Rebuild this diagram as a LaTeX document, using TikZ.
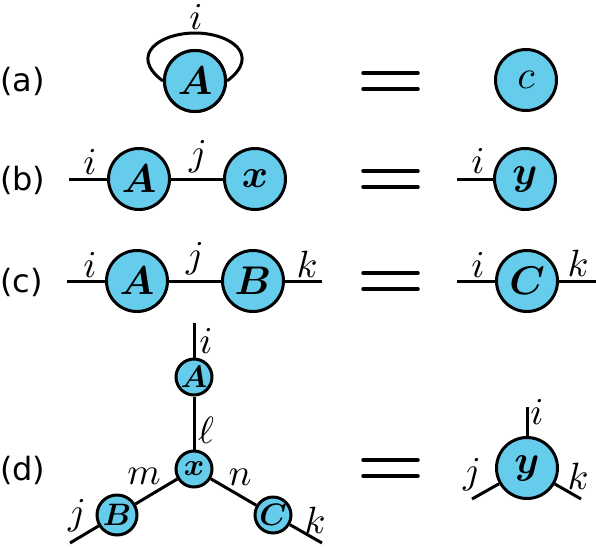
\documentclass[tikz,border=0pt]{standalone}
\usepackage{amsmath}
\usepackage{bm}
\usepackage{fontspec}
\newfontfamily\labfont{DejaVu Sans}
\definecolor{tfill}{RGB}{102,204,236}
\newcommand{\BigT}[1]{\scalebox{4.0}{$#1$}}
\newcommand{\SmallT}[1]{\scalebox{3.1}{$#1$}}
\begin{document}
\begin{tikzpicture}[x=1pt,y=-1pt,
  tn/.style={circle,draw=black,line width=3pt,fill=tfill,inner sep=0pt,minimum size=61pt},
  tns/.style={circle,draw=black,line width=3pt,fill=tfill,inner sep=0pt,minimum size=36pt},
  idx/.style={inner sep=0pt,scale=3.8},
  rowlab/.style={inner sep=0pt,anchor=west,font=\labfont\fontsize{32}{38}\selectfont},
  edge/.style={line width=3pt},
  eqsign/.style={line width=3.5pt,line cap=round}]
\useasboundingbox (0,0) rectangle (596,546);

% row labels
\node[rowlab] (la) at (0,81) {(a)};
\node[rowlab] (lb) at (0,180) {(b)};
\node[rowlab] (lc) at (0,282) {(c)};
\node[rowlab] (ld) at (0,470) {(d)};

% equals signs
\foreach \yc in {81,179,281,468}{
  \draw[eqsign] (363,\yc-8) -- (418,\yc-8);
  \draw[eqsign] (363,\yc+8) -- (418,\yc+8);
}

% (a)
\coordinate (aTop) at (195,33);
\node[tn] (aA) at (195,81) {};
\draw[edge] (aA.west) .. controls (128,55) and (160,33) .. (aTop)
            .. controls (230,33) and (262,55) .. (aA.east);
\node[tn] (aA2) at (aA) {\BigT{\bm{A}}};
\node[idx] (ai) at (196,17) {$i$};
\node[tn] (ac) at (526,80) {\BigT{c}};

% (b)
\coordinate (bL) at (69,179);
\node[tn] (bA) at (139,179) {\BigT{\bm{A}}};
\node[tn] (bx) at (255,179) {\BigT{\bm{x}}};
\draw[edge] (bL) -- (bA);
\draw[edge] (bA) -- (bx);
\node[idx] (bi) at (90,162) {$i$};
\node[idx] (bj) at (198,157) {$j$};
\coordinate (bL2) at (457,179);
\node[tn] (by) at (525,179) {\BigT{\bm{y}}};
\draw[edge] (bL2) -- (by);
\node[idx] (bi2) at (478,161) {$i$};

% (c)
\coordinate (cL) at (67,281);
\coordinate (cR) at (322,281);
\node[tn] (cA) at (137,281) {\BigT{\bm{A}}};
\node[tn] (cB) at (253,281) {\BigT{\bm{B}}};
\draw[edge] (cL) -- (cA);
\draw[edge] (cA) -- (cB);
\draw[edge] (cB) -- (cR);
\node[idx] (ci) at (90,265) {$i$};
\node[idx] (cj) at (195,259) {$j$};
\node[idx] (ck) at (307,264) {$k$};
\coordinate (cL2) at (457,281);
\coordinate (cR2) at (596,281);
\node[tn] (cC) at (527,281) {\BigT{\bm{C}}};
\draw[edge] (cL2) -- (cC);
\draw[edge] (cC) -- (cR2);
\node[idx] (ci2) at (478,265) {$i$};
\node[idx] (ck2) at (578,263) {$k$};

% (d) left
\node[tns] (dx) at (194,469) {\SmallT{\bm{x}}};
\node[tns] (dA) at (194,377) {\SmallT{\bm{A}}};
\node[tns,minimum size=40pt] (dB) at (117,515) {\SmallT{\bm{B}}};
\node[tns] (dC) at (273,515) {\SmallT{\bm{C}}};
\coordinate (dTop) at (194,323);
\coordinate (dBL) at (70,543);
\coordinate (dBR) at (322,543);
\draw[edge] (dTop) -- (dA);
\draw[edge] (dA) -- (dx);
\draw[edge] (dx) -- (dB);
\draw[edge] (dB) -- (dBL);
\draw[edge] (dx) -- (dC);
\draw[edge] (dC) -- (dBR);
\node[idx] (di) at (206,341) {$i$};
\node[idx] (dl) at (206,430) {$\ell$};
\node[idx] (dm) at (144,476) {$m$};
\node[idx] (dn) at (240,477) {$n$};
\node[idx] (dj) at (77,516) {$j$};
\node[idx] (dk) at (315,520) {$k$};

% (d) right
\node[tn] (dy) at (527,468) {\BigT{\bm{y}}};
\coordinate (eTop) at (527,407);
\coordinate (eBL) at (472,499);
\coordinate (eBR) at (581,499);
\draw[edge] (eTop) -- (dy);
\draw[edge] (dy) -- (eBL);
\draw[edge] (dy) -- (eBR);
\node[idx] (ei) at (537,412) {$i$};
\node[idx] (ej) at (472,475) {$j$};
\node[idx] (ek) at (578,476) {$k$};
\end{tikzpicture}
\end{document}
